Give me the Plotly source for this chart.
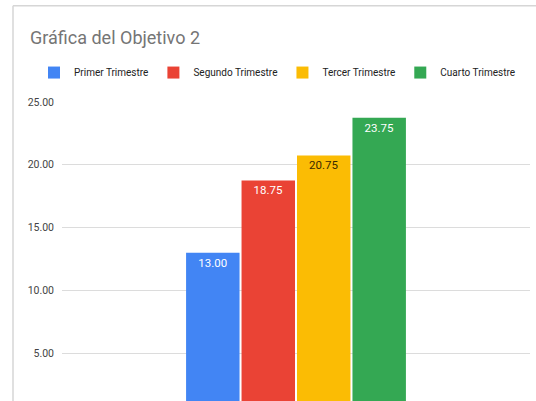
import plotly.graph_objects as go

categories = [""]
series_names = ["Primer Trimestre", "Segundo Trimestre", "Tercer Trimestre", "Cuarto Trimestre"]
series_values = [13.00, 18.75, 20.75, 23.75]
series_colors = ["#4285f4", "#ea4335", "#fbbc04", "#34a853"]
label_colors = ["#ffffff", "#ffffff", "#3a2a00", "#ffffff"]
tick_vals = [5, 10, 15, 20, 25]
tick_text = ["5.00", "10.00", "15.00", "20.00", "25.00"]

FONT = "Roboto, Arial, sans-serif"

fig = go.Figure()
for name, val, col, lc in zip(series_names, series_values, series_colors, label_colors):
    fig.add_trace(go.Bar(
        x=categories, y=[val], name=name,
        marker=dict(color=col, line=dict(width=0)),
        text=[f"{val:.2f}"], textposition="inside", insidetextanchor="end",
        textangle=0, constraintext="none",
        textfont=dict(color=lc, size=11.5, family=FONT),
        hoverinfo="skip",
    ))

W, H = 536, 401
L, R, T, B = 62, 6, 101.5, 0
pw, ph = W - L - R, H - T - B

fig.update_layout(
    width=W, height=H,
    margin=dict(l=L, r=R, t=T, b=B, pad=0, autoexpand=False),
    paper_bgcolor="white", plot_bgcolor="white",
    barmode="group", bargap=0.526, bargroupgap=0.036,
    title=dict(text="Gráfica del Objetivo 2", x=30 / W, xanchor="left",
               xref="container", y=1 - 38 / H, yanchor="middle", yref="container",
               pad=dict(l=0, r=0, t=0, b=0),
               font=dict(size=18, color="#757575", family=FONT)),
    legend=dict(orientation="h", xref="paper", x=(34 - L) / pw, xanchor="left",
                yref="paper", y=1 + (T - 72) / ph, yanchor="middle",
                font=dict(size=10, color="#222222", family=FONT),
                itemwidth=30, traceorder="normal", tracegroupgap=0),
    showlegend=True,
    xaxis=dict(showticklabels=False, showgrid=False, zeroline=False, showline=False, ticks=""),
    yaxis=dict(range=[25 - ph / 12.58, 25], tickvals=tick_vals, ticktext=tick_text,
               showgrid=True, gridcolor="#dcdcdc", gridwidth=1, zeroline=False,
               showline=False, ticks="", ticklabelstandoff=7,
               tickfont=dict(size=10.5, color="#444444", family=FONT)),
    shapes=[
        dict(type="line", xref="paper", yref="paper",
             x0=(13 - L) / pw, x1=(13 - L) / pw, y0=1 + (T - 5) / ph, y1=-0.05,
             line=dict(color="#d6d6d6", width=1.5)),
        dict(type="line", xref="paper", yref="paper",
             x0=(13 - L) / pw, x1=1.1, y0=1 + (T - 5) / ph, y1=1 + (T - 5) / ph,
             line=dict(color="#d6d6d6", width=1.5)),
    ],
)

fig.write_html("out.html", config={"displayModeBar": False},
               post_script="document.body.style.margin='0';document.body.style.overflow='hidden';")
